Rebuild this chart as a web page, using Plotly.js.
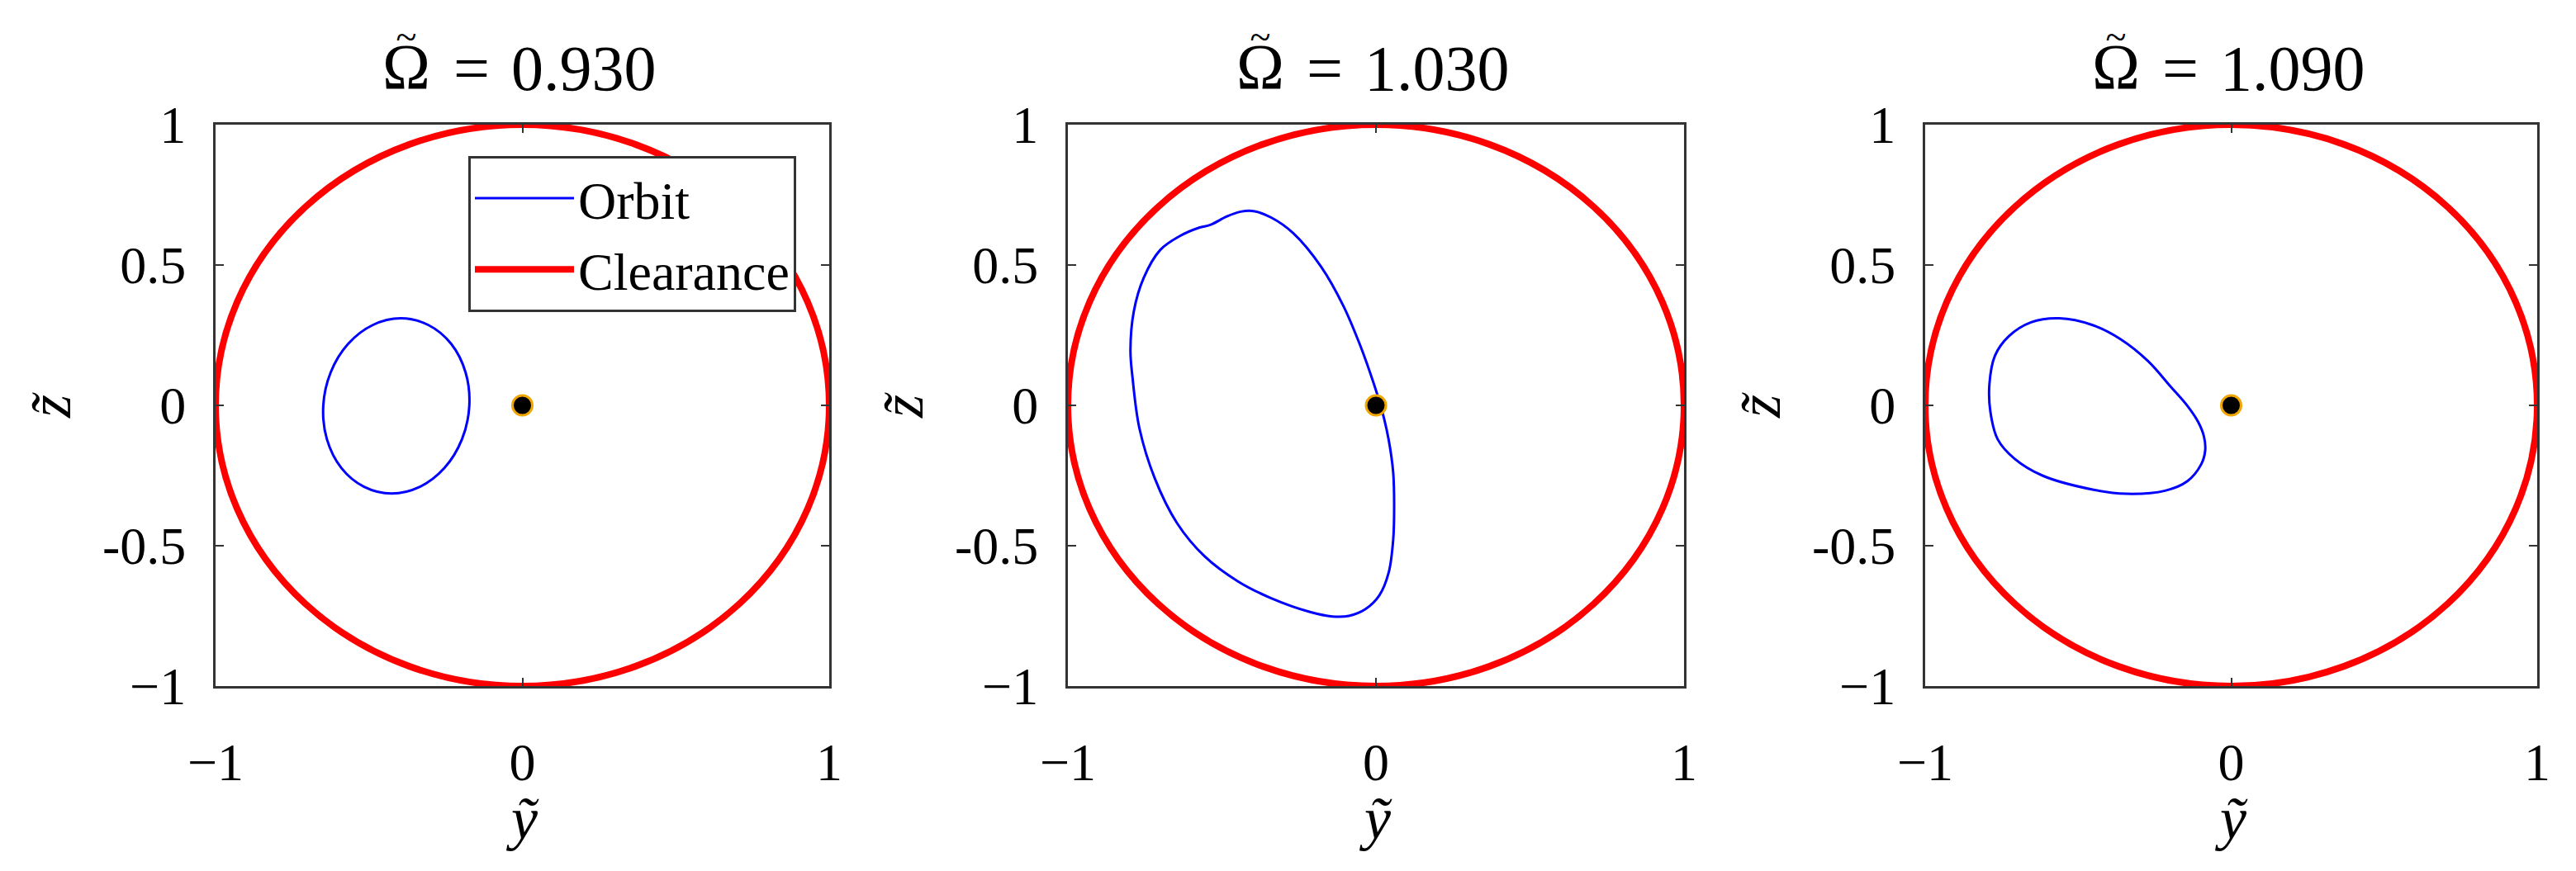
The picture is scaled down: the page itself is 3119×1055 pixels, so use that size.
<!DOCTYPE html>
<html>
<head>
<meta charset="utf-8">
<script src="https://cdn.plot.ly/plotly-3.0.1.min.js"></script>
<style>
  html, body { margin: 0; padding: 0; background: #fff; }
  #plot { width: 3119px; height: 1055px; }
</style>
</head>
<body>
<div id="plot"></div>
<script>
// values
const omegaValues = ['0.930', '1.030', '1.090'];

const orbit1Y = [-0.173, -0.185, -0.232, -0.306, -0.396, -0.488, -0.568, -0.625, -0.649, -0.637, -0.590, -0.516, -0.426, -0.334, -0.254, -0.197, -0.173];
const orbit1Z = [-0.002, 0.117, 0.219, 0.286, 0.310, 0.286, 0.219, 0.117, -0.002, -0.121, -0.223, -0.290, -0.314, -0.290, -0.223, -0.121, -0.002];

const orbit2Y = [-0.397, -0.340, -0.268, -0.178, -0.106, -0.052, -0.007, 0.020, 0.041, 0.056, 0.059, 0.056, 0.041, 0.011, -0.034, -0.088, -0.142, -0.214, -0.340, -0.448, -0.556, -0.646, -0.718, -0.768, -0.790, -0.797, -0.786, -0.754, -0.700, -0.637, -0.574, -0.538, -0.484, -0.439, -0.397];
const orbit2Z = [0.692, 0.669, 0.613, 0.494, 0.355, 0.216, 0.077, -0.020, -0.121, -0.240, -0.359, -0.478, -0.597, -0.677, -0.726, -0.750, -0.752, -0.736, -0.687, -0.627, -0.538, -0.419, -0.260, -0.081, 0.097, 0.196, 0.335, 0.454, 0.554, 0.603, 0.633, 0.643, 0.673, 0.690, 0.692];

const orbit3Y = [-0.562, -0.453, -0.362, -0.271, -0.198, -0.143, -0.107, -0.089, -0.085, -0.098, -0.143, -0.216, -0.344, -0.453, -0.617, -0.708, -0.763, -0.787, -0.790, -0.772, -0.727, -0.654, -0.562];
const orbit3Z = [0.310, 0.286, 0.236, 0.157, 0.067, -0.002, -0.061, -0.111, -0.161, -0.210, -0.270, -0.304, -0.315, -0.300, -0.250, -0.190, -0.121, -0.022, 0.077, 0.177, 0.246, 0.296, 0.310];

const orbitsY = [orbit1Y, orbit2Y, orbit3Y];
const orbitsZ = [orbit1Z, orbit2Z, orbit3Z];

const clearanceRadius = 1;
const centerY = [0];
const centerZ = [0];

const xTickVals = [-1, 0, 1];
const xTickText = ['\u22121', '0', '1'];
const yTickVals = [-1, -0.5, 0, 0.5, 1];
const yTickText = ['\u22121', '-0.5', '0', '0.5', '1'];

// page geometry (pixels)
const W = 3119, H = 1055;
const boxX = [[261, 1004], [1293, 2039], [2331, 3072]];
const boxTop = 151, boxBottom = 831;
const serif = 'Liberation Serif, Times New Roman, serif';

const traces = [];
const shapes = [];
const annotations = [];
const layout = {
    width: W, height: H,
    margin: {l: 0, r: 0, t: 0, b: 0},
    paper_bgcolor: '#fff', plot_bgcolor: '#fff',
    font: {family: serif, size: 64, color: '#000'},
    showlegend: true,
    legend: {
        x: 567 / W, y: 1 - 189 / H, xanchor: 'left', yanchor: 'top',
        bgcolor: '#fff', bordercolor: '#333', borderwidth: 3,
        font: {family: serif, size: 64, color: '#000'},
        itemwidth: 120, tracegroupgap: 0
    }
};

function paperAnn(xpx, ypx, text, size, extra) {
    return Object.assign({
        xref: 'paper', yref: 'paper', x: xpx / W, y: 1 - ypx / H,
        xanchor: 'center', yanchor: 'middle', showarrow: false,
        text: text, font: {family: serif, size: size, color: '#000'}
    }, extra || {});
}

for (let i = 0; i < 3; i++) {
    const sfx = i === 0 ? '' : String(i + 1);
    const xa = 'x' + sfx, ya = 'y' + sfx;
    const dom = [boxX[i][0] / W, boxX[i][1] / W];

    traces.push({
        x: orbitsY[i], y: orbitsZ[i], xaxis: xa, yaxis: ya,
        type: 'scatter', mode: 'lines', name: 'Orbit',
        line: {color: '#0000ff', width: 3, shape: 'spline', smoothing: 1},
        showlegend: i === 0
    });
    if (i === 0) {
        // legend entry for the clearance circle (drawn as a shape)
        traces.push({
            x: [null], y: [null], xaxis: xa, yaxis: ya,
            type: 'scatter', mode: 'lines', name: 'Clearance',
            line: {color: '#ff0000', width: 8}
        });
    }
    traces.push({
        x: centerY, y: centerZ, xaxis: xa, yaxis: ya,
        type: 'scatter', mode: 'markers', showlegend: false,
        marker: {size: 24, color: '#000', line: {color: '#f0a500', width: 3}}
    });

    shapes.push({
        type: 'circle', xref: xa, yref: ya, layer: 'below',
        x0: -clearanceRadius, x1: clearanceRadius, y0: -clearanceRadius, y1: clearanceRadius,
        line: {color: '#ff0000', width: 8}
    });

    const axCommon = {
        showgrid: false, zeroline: false,
        showline: true, linecolor: '#333', linewidth: 3, mirror: 'ticks',
        ticks: 'inside', ticklen: 10, tickwidth: 2, tickcolor: '#333',
        tickfont: {family: serif, size: 64, color: '#000'},
        fixedrange: true
    };
    layout['xaxis' + sfx] = Object.assign({}, axCommon, {
        domain: dom, anchor: ya, range: [-1, 1],
        tickmode: 'array', tickvals: xTickVals, ticktext: xTickText,
        ticklabelstandoff: 34
    });
    layout['yaxis' + sfx] = Object.assign({}, axCommon, {
        domain: [1 - boxBottom / H, 1 - boxTop / H], anchor: xa, range: [-1, 1],
        tickmode: 'array', tickvals: yTickVals, ticktext: yTickText,
        ticklabelstandoff: 20
    });

    const cx = (boxX[i][0] + boxX[i][1]) / 2;
    // panel title: Omega with its tilde stacked above (one text), then "= value"
    annotations.push(paperAnn(cx - 140, 126,
        '<span style="font-size:46px">~</span><br><span style="font-size:78px">\u03A9</span>', 36,
        {yanchor: 'bottom'}));
    annotations.push(paperAnn(cx - 86, 82, '=\u2004' + omegaValues[i], 78, {xanchor: 'left'}));
    // axis labels
    annotations.push(paperAnn(cx, 992, '<i>y\u0303</i>', 72));
    annotations.push(paperAnn(boxX[i][0] - 200, 491, '<i>z\u0303</i>', 72, {textangle: -90}));
}

layout.shapes = shapes;
layout.annotations = annotations;

Plotly.newPlot('plot', traces, layout, {staticPlot: true, displayModeBar: false});
</script>
</body>
</html>
